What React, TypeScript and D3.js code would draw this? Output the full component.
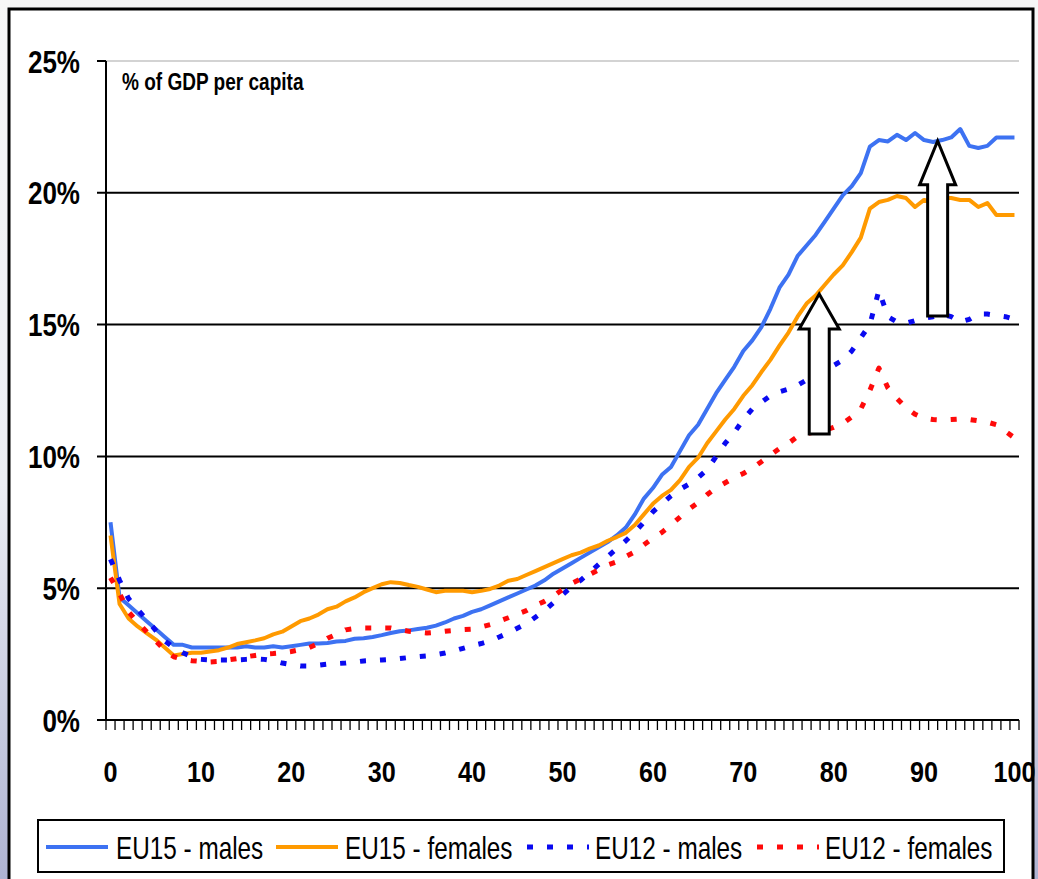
import React from "react";
import * as d3 from "d3";

const ages: number[] = d3.range(0, 101);

const eu15Males: number[] = [
  7.5, 4.65, 4.35, 4.05, 3.75, 3.45, 3.15, 2.85, 2.85, 2.75,
  2.75, 2.75, 2.75, 2.75, 2.75, 2.8, 2.75, 2.75, 2.8, 2.75,
  2.8, 2.85, 2.9, 2.9, 2.92, 2.98, 3.0, 3.08, 3.1, 3.15,
  3.22, 3.3, 3.37, 3.4, 3.45, 3.5, 3.58, 3.7, 3.85, 3.95,
  4.1, 4.2, 4.35, 4.5, 4.65, 4.8, 4.95, 5.1, 5.3, 5.55,
  5.75, 5.95, 6.15, 6.35, 6.55, 6.75, 7.0, 7.3, 7.8, 8.4,
  8.8, 9.3, 9.6, 10.2, 10.8, 11.2, 11.8, 12.4, 12.9, 13.4,
  14.0, 14.4, 14.9, 15.6, 16.4, 16.9, 17.6, 18.0, 18.4, 18.9,
  19.4, 19.9, 20.25, 20.75, 21.75, 22.0, 21.95, 22.2, 22.0, 22.27,
  22.0, 21.93, 22.0, 22.1, 22.42, 21.78, 21.7, 21.78, 22.1, 22.1,
  22.1,
];

const eu15Females: number[] = [
  7.0, 4.4, 3.85, 3.55, 3.3, 3.05, 2.75, 2.45, 2.5, 2.55,
  2.55, 2.6, 2.65, 2.75, 2.88, 2.95, 3.02, 3.1, 3.25, 3.35,
  3.55, 3.75, 3.85, 4.0, 4.2, 4.3, 4.5, 4.65, 4.85, 5.0,
  5.15, 5.23, 5.2, 5.12, 5.05, 4.95, 4.85, 4.9, 4.9, 4.9,
  4.85, 4.9, 4.97, 5.1, 5.28, 5.35, 5.5, 5.65, 5.8, 5.95,
  6.1, 6.25, 6.35, 6.5, 6.62, 6.8, 6.94, 7.1, 7.4, 7.8,
  8.2, 8.5, 8.73, 9.1, 9.6, 9.95, 10.5, 10.95, 11.4, 11.8,
  12.3, 12.7, 13.2, 13.66, 14.2, 14.7, 15.3, 15.8, 16.1, 16.5,
  16.9, 17.25, 17.75, 18.3, 19.4, 19.65, 19.73, 19.88, 19.8, 19.46,
  19.73, 19.65, 19.8, 19.8, 19.73, 19.73, 19.46, 19.61, 19.16, 19.16,
  19.16,
];

const eu12Males: number[] = [
  6.1, 5.3, 4.6, 4.2, 3.8, 3.4, 3.0, 2.75, 2.55, 2.4,
  2.3, 2.28, 2.28, 2.28, 2.28, 2.3, 2.32, 2.3, 2.25, 2.16,
  2.1, 2.05, 2.05, 2.08, 2.12, 2.14, 2.16, 2.2, 2.24, 2.26,
  2.28, 2.3, 2.33, 2.37, 2.4, 2.43, 2.48, 2.54, 2.62, 2.72,
  2.82, 2.9, 3.0, 3.15, 3.3, 3.48, 3.65, 3.9, 4.15, 4.45,
  4.75, 5.05, 5.3, 5.6, 5.9, 6.2, 6.5, 6.8, 7.13, 7.5,
  7.9, 8.2, 8.5, 8.75, 8.95, 9.2, 9.5, 10.0, 10.5, 10.9,
  11.4, 11.8, 12.05, 12.3, 12.45, 12.55, 12.7, 12.9, 13.05, 13.25,
  13.45, 13.65, 14.0, 14.5, 15.0, 16.3, 15.3, 15.1, 15.05, 15.15,
  15.25, 15.3, 15.4, 15.3, 15.1, 15.2, 15.4, 15.4, 15.35, 15.3,
  15.2,
];

const eu12Females: number[] = [
  5.4, 4.8, 4.1, 3.7, 3.35, 3.0, 2.65, 2.4, 2.3, 2.25,
  2.22, 2.2, 2.22, 2.28, 2.33, 2.4, 2.45, 2.5, 2.52, 2.55,
  2.6, 2.67, 2.75, 2.9, 3.1, 3.25, 3.42, 3.47, 3.49, 3.49,
  3.49, 3.49, 3.43, 3.37, 3.33, 3.3, 3.33, 3.37, 3.4, 3.43,
  3.45, 3.53, 3.62, 3.75, 3.88, 4.02, 4.15, 4.35, 4.5, 4.7,
  4.95, 5.18, 5.35, 5.52, 5.7, 5.88, 6.0, 6.2, 6.38, 6.65,
  6.9, 7.12, 7.4, 7.7, 8.0, 8.25, 8.55, 8.8, 9.0, 9.2,
  9.35, 9.55, 9.8, 10.05, 10.3, 10.5, 10.75, 10.85, 10.95, 11.0,
  11.1, 11.25, 11.5, 11.8, 12.5, 13.35, 12.6, 12.2, 11.85, 11.6,
  11.45, 11.4, 11.38, 11.4, 11.42, 11.4, 11.35, 11.3, 11.2, 10.95,
  10.7,
];

const yTicks: number[] = [0, 5, 10, 15, 20, 25];
const xLabels: number[] = [0, 10, 20, 30, 40, 50, 60, 70, 80, 90, 100];
const seriesNames: string[] = ["EU15 - males", "EU15 - females", "EU12 - males", "EU12 - females"];
const titleText = "% of GDP per capita";

// Arrows: age position, start value, end value (percent)
const arrowAges: number[] = [78.4, 91.5];
const arrowFrom: number[] = [10.85, 15.33];
const arrowTo: number[] = [16.16, 21.97];

const seriesStyles = [
  { color: "#3d72f2", width: 4, dash: null as string | null },
  { color: "#ff9a00", width: 4, dash: null as string | null },
  { color: "#0a0af0", width: 5, dash: "6 14" },
  { color: "#ff0a0a", width: 5, dash: "6 14" },
];

const legendLineX = [46, 276, 527, 757];
const legendTextX = [116, 345, 595, 825];
const arrowHead = [
  { w: 40, h: 35 },
  { w: 36, h: 44 },
];

export default function App() {
  const W = 1038;
  const H = 879;
  const x = d3.scaleBand<number>().domain(ages).range([106, 1019]).paddingInner(0).paddingOuter(0);
  const bw = x.bandwidth();
  const cx = (a: number) => (x(Math.floor(a)) as number) + bw / 2 + (a - Math.floor(a)) * bw;
  const y = d3.scaleLinear().domain([0, 25]).range([720, 61]);
  const line = d3
    .line<number>()
    .x((_, i) => cx(ages[i]))
    .y((d) => y(d));
  const allSeries = [eu15Males, eu15Females, eu12Males, eu12Females];
  const tickBounds = d3.range(0, ages.length + 1).map((i) => 106 + i * bw);

  const font = "Arial, 'Liberation Sans', Helvetica, sans-serif";

  const arrowPath = (i: number) => {
    const ax = cx(arrowAges[i]);
    const y0 = y(arrowFrom[i]);
    const y1 = y(arrowTo[i]);
    const sw = 10;
    const hw = arrowHead[i].w / 2;
    const hb = y1 + arrowHead[i].h;
    return `M${ax - sw},${y0} L${ax - sw},${hb} L${ax - hw},${hb} L${ax},${y1} L${ax + hw},${hb} L${ax + sw},${hb} L${ax + sw},${y0} Z`;
  };

  return (
    <svg width={W} height={H} style={{ position: "absolute", left: 0, top: 0 }} fontFamily={font}>
      <defs>
        <linearGradient id="bg" x1="0" y1="0" x2="0" y2="1">
          <stop offset="0" stopColor="#f7f7f7" />
          <stop offset="0.55" stopColor="#eceef4" />
          <stop offset="1" stopColor="#aeb3d2" />
        </linearGradient>
      </defs>
      <rect x={0} y={0} width={W} height={H} fill="url(#bg)" />
      <rect x={9} y={9} width={1024} height={H} fill="#ffffff" stroke="#000" strokeWidth={3} />

      {/* gridlines */}
      {yTicks.map((t) => (
        <line
          key={"g" + t}
          x1={97}
          x2={1019}
          y1={y(t)}
          y2={y(t)}
          stroke={t === 25 ? "#c4c4c4" : "#000"}
          strokeWidth={t === 25 ? 1.5 : 2}
        />
      ))}
      {/* y tick stubs for top line */}
      <line x1={97} x2={106} y1={y(25)} y2={y(25)} stroke="#000" strokeWidth={2} />
      {/* y axis */}
      <line x1={106} x2={106} y1={y(25)} y2={y(0)} stroke="#000" strokeWidth={2} />
      {/* x ticks */}
      {tickBounds.map((tx, i) => (
        <line key={"xt" + i} x1={tx} x2={tx} y1={720} y2={730} stroke="#000" strokeWidth={1.3} />
      ))}

      {/* y labels */}
      {yTicks.map((t) => (
        <text
          key={"yl" + t}
          transform={`translate(80,${y(t) + 11.5}) scale(0.84,1)`}
          textAnchor="end"
          fontWeight="bold"
          fontSize={31}
          fill="#000"
        >
          {t + "%"}
        </text>
      ))}
      {/* x labels */}
      {xLabels.map((a) => (
        <text
          key={"xl" + a}
          transform={`translate(${cx(a)},${782}) scale(0.84,1)`}
          textAnchor="middle"
          fontWeight="bold"
          fontSize={30}
          fill="#000"
        >
          {a}
        </text>
      ))}

      {/* title */}
      <text transform="translate(122,90) scale(0.81,1)" fontWeight="bold" fontSize={23.5} fill="#000">
        {titleText}
      </text>

      {/* series */}
      {allSeries.map((s, i) => (
        <path
          key={"s" + i}
          d={line(s) || ""}
          fill="none"
          stroke={seriesStyles[i].color}
          strokeWidth={seriesStyles[i].width}
          strokeDasharray={seriesStyles[i].dash || undefined}
          strokeLinejoin="round"
        />
      ))}

      {/* arrows */}
      {arrowAges.map((_, i) => (
        <path key={"ar" + i} d={arrowPath(i)} fill="#fff" stroke="#000" strokeWidth={3} strokeLinejoin="miter" />
      ))}

      {/* legend */}
      <rect x={38} y={820} width={966} height={52} fill="#fff" stroke="#000" strokeWidth={2} />
      {seriesNames.map((n, i) => (
        <g key={"lg" + i}>
          <line
            x1={legendLineX[i]}
            x2={legendLineX[i] + 62}
            y1={847}
            y2={847}
            stroke={seriesStyles[i].color}
            strokeWidth={seriesStyles[i].dash ? 5 : 4}
            strokeDasharray={seriesStyles[i].dash || undefined}
          />
          <text
            transform={`translate(${legendTextX[i]},${858.5}) scale(0.76,1)`}
            fontSize={32}
            fill="#000"
          >
            {n}
          </text>
        </g>
      ))}
    </svg>
  );
}
